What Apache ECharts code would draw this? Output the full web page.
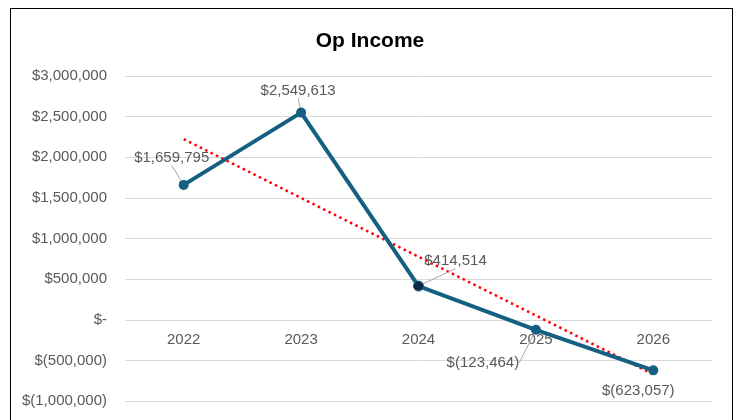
<!DOCTYPE html>
<html>
<head>
<meta charset="utf-8">
<script src="https://cdn.jsdelivr.net/npm/echarts@6/dist/echarts.min.js"></script>
<style>
html,body{margin:0;padding:0;background:#fff;overflow:hidden;width:740px;height:420px;}
#frame{position:absolute;left:10px;top:8px;width:723px;height:430px;border:1.5px solid #000;box-sizing:border-box;}
#chart{position:absolute;left:0;top:0;width:740px;height:420px;}
</style>
</head>
<body>
<div id="frame"></div>
<div id="chart"></div>
<script>
const categories = ['2022', '2023', '2024', '2025', '2026'];
const opIncome = [1659795, 2549613, 414514, -123464, -623057];
// trendline endpoints (first and last category)
const trendEnds = [2223000, -672000];
const yTicks = { min: -1000000, max: 3000000, interval: 500000 };

// label offsets relative to each point (layout only)
const labelOffsets = [[-12, -27], [-3, -22], [37, -25], [-53, 33], [-15, 20]];
const showLeader = [true, true, true, true, false];

function money(v) {
  if (v === 0) return '$-';
  const s = Math.abs(v).toLocaleString('en-US');
  return v < 0 ? '$(' + s + ')' : '$' + s;
}

const trendData = categories.map((c, i) => i === 0 ? trendEnds[0] : (i === categories.length - 1 ? trendEnds[1] : null));

const chart = echarts.init(document.getElementById('chart'), null, { renderer: 'canvas', width: 740, height: 420 });
chart.setOption({
  animation: false,
  title: {
    text: 'Op Income', left: 'center', top: 26,
    textStyle: { fontFamily: 'Liberation Sans', fontWeight: 'bold', fontSize: 21, color: '#000' }
  },
  grid: { left: 125, right: 28, top: 76, bottom: 19, containLabel: false, outerBoundsMode: 'none' },
  xAxis: {
    type: 'category', data: categories, boundaryGap: true, position: 'bottom', offset: -81,
    axisLine: { show: false, onZero: false },
    axisTick: { show: false },
    axisLabel: { color: '#595959', fontFamily: 'Liberation Sans', fontSize: 15, margin: 12 }
  },
  yAxis: {
    type: 'value', min: yTicks.min, max: yTicks.max, interval: yTicks.interval,
    axisLine: { show: false }, axisTick: { show: false },
    splitLine: { lineStyle: { color: '#d9d9d9', width: 1 } },
    axisLabel: { color: '#595959', fontFamily: 'Liberation Sans', fontSize: 15, margin: 18, formatter: money }
  },
  series: [
    {
      type: 'line', data: trendData, connectNulls: true, symbol: 'none', silent: true,
      lineStyle: { color: '#ff0000', width: 2.5, type: [2.5, 3.5] }, z: 3
    },
    {
      type: 'line', z: 4,
      data: opIncome.map((v, i) => ({
        value: v,
        itemStyle: i === 2 ? { color: '#0E2841', borderColor: '#156082', borderWidth: 1 } : undefined,
        label: { offset: labelOffsets[i] },
        labelLine: { show: showLeader[i] }
      })),
      symbol: 'circle', symbolSize: 10,
      itemStyle: { color: '#156082' },
      lineStyle: { color: '#156082', width: 4 },
      label: {
        show: true, position: 'inside', color: '#595959', fontFamily: 'Liberation Sans', fontSize: 15,
        formatter: p => money(p.value)
      },
      labelLine: { show: true, lineStyle: { color: '#a6a6a6', width: 1 } }
    }
  ]
});
</script>
</body>
</html>
